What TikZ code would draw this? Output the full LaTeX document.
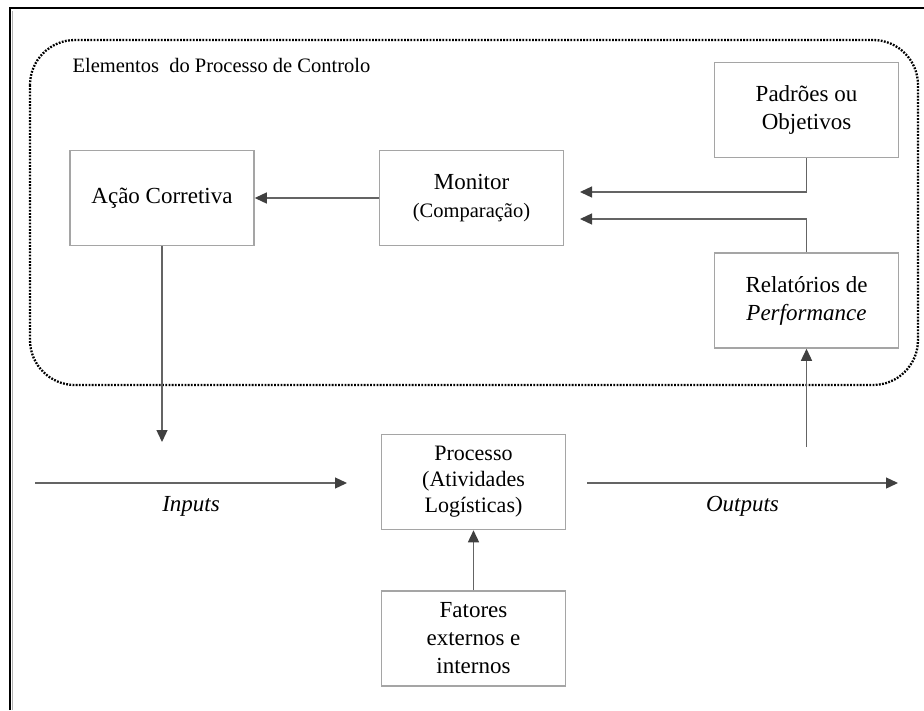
\documentclass[tikz,border=0pt]{standalone}
\usepackage{fontspec}
\setmainfont{Liberation Serif}
\usetikzlibrary{arrows.meta}
\definecolor{boxgray}{RGB}{165,165,165}
\definecolor{arrgray}{RGB}{100,100,100}
\definecolor{tipgray}{RGB}{64,64,64}
\newcommand{\bgtxt}{\fontsize{23}{28}\selectfont}
\newcommand{\smtxt}{\fontsize{20.5}{26}\selectfont}

\begin{document}
\begin{tikzpicture}[x=1pt,y=-1pt,
   box/.style={draw=boxgray,line width=1.5pt,minimum width=184pt,minimum height=95pt,
               align=center,inner sep=2pt,font=\bgtxt},
   arr/.style={draw=arrgray,line width=1.3pt,-{Triangle[length=12pt,width=11pt,color=tipgray]}}]
   \useasboundingbox (0,0) rectangle (924,710);
   % frame
   \draw[line width=2.6pt] (10,710) -- (10,8) -- (924,8);
   \draw[gray!60,line width=1pt] (12.5,710) -- (12.5,10.5);
   % control elements
   \draw[line width=2.3pt,dash pattern=on 1.8pt off 1.4pt,rounded corners=45pt]
    (30,40) rectangle (918,385);
   \node[anchor=west,font=\smtxt] (elem) at (69,65) {Elementos\ \ do Processo de Controlo};
   \node[box] (aca) at (162,198) {Ação Corretiva};
   \node[box] (mon) at (471.5,198) {Monitor\\{\smtxt (Comparação)}};
   \node[box] (pad) at (806.5,110) {Padrões ou\\Objetivos};
   \node[box] (rel) at (806.5,300.5) {Relatórios de\\\textit{Performance}};
   % process
   \node[box,font=\fontsize{22}{26}\selectfont] (proc) at (473.5,482) {Processo\\(Atividades\\Logísticas)};
   \node[box] (fat) at (473.5,638.5) {Fatores\\externos e\\internos};
   \coordinate (m1) at (580,192);
   \coordinate (m2) at (580,219);
   \coordinate (acad) at (162,442);
   \coordinate (in1) at (35,483);
   \coordinate (in2) at (347,483);
   \coordinate (out1) at (587,483);
   \coordinate (out2) at (898,483);
   \coordinate (rel0) at (806.5,447);
   \draw[arr] (mon.west) -- (aca.east);
   \draw[arr] (pad.south) |- (m1);
   \draw[arr] (rel.north) |- (m2);
   \draw[arr] (aca.south) -- (acad);
   \draw[arr] (rel0) -- (rel.south);
   \draw[arr] (fat.north) -- (proc.south);
   \draw[arr] (in1) -- node[below=9pt,font=\bgtxt\itshape] (inp) {Inputs} (in2);
   \draw[arr] (out1) -- node[below=9pt,font=\bgtxt\itshape] (outp) {Outputs} (out2);
\end{tikzpicture}
\end{document}
